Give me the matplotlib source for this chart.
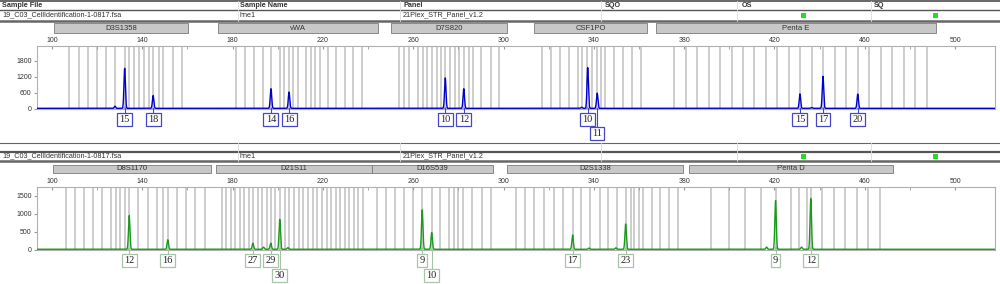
import numpy as np
import matplotlib.pyplot as plt
from matplotlib.patches import Rectangle
from matplotlib.lines import Line2D
from matplotlib.transforms import blended_transform_factory

plt.rcParams['font.family'] = ['Liberation Sans', 'DejaVu Sans']

W, H = 1000, 284

# ---- header table ----
col_titles = ['Sample File', 'Sample Name', 'Panel', 'SQO', 'OS', 'SQ']
col_x = [2, 240, 403, 605, 742, 874]
col_sep = [238, 400, 601, 737, 871]
sample_values = ['19_C03_CellIdentification-1-0817.fsa', 'hne1', '21Plex_STR_Panel_v1.2']
flag_x = [803.7, 935.7]

# ---- top panel (blue dye) ----
top_markers = ['D3S1358', 'vWA', 'D7S820', 'CSF1PO', 'Penta E']
top_marker_start = [100.9, 173.5, 250.2, 313.5, 367.5]
top_marker_end = [160.3, 244.4, 301.6, 363.6, 491.6]
top_bins = [107.7, 112.0, 115.8, 119.9, 124.1, 128.0, 132.2, 134.2, 136.3, 138.4, 140.8,
            142.8, 144.9, 147.3, 149.3, 153.5, 157.6,
            181.5, 185.5, 189.5, 193.6, 197.0, 201.0, 202.9, 205.0, 206.9, 209.1, 212.5,
            214.7, 216.6, 218.7, 222.4, 225.8, 229.6, 233.2, 237.2,
            253.7, 255.9, 258.2, 262.2, 264.2, 266.2, 268.3, 270.4, 272.4, 274.2, 276.5,
            278.5, 280.5, 282.4, 284.5, 286.4, 290.2, 294.4, 298.2,
            317.2, 321.0, 325.0, 328.9, 332.9, 334.9, 337.2, 339.1, 341.4, 343.3, 345.1,
            349.1, 353.0, 357.0, 360.8,
            375.5, 380.7, 385.7, 390.9, 395.9, 401.1, 406.1, 411.1, 416.3, 421.3, 426.5,
            431.3, 436.5, 441.5, 446.7, 451.7, 456.9, 461.9, 467.1, 472.2, 477.3, 482.4, 487.5]
top_peak_bp = [132.2, 144.8, 197.0, 205.0, 274.2, 282.4, 337.3, 341.5, 431.3, 441.5, 456.9]
top_peak_rfu = [1500, 480, 735, 610, 1140, 735, 1525, 570, 540, 1200, 535]
top_alleles = ['15', '18', '14', '16', '10', '12', '10', '11', '15', '17', '20']
top_rows = [0, 0, 0, 0, 0, 0, 0, 1, 0, 0, 0]
top_minor_bp = [127.9, 334.6, 436.5]
top_minor_rfu = [80, 40, 30]

# ---- bottom panel (green dye) ----
bot_markers = ['D8S1170', 'D21S11', 'D16S539', 'D2S1338', 'Penta D']
bot_marker_start = [100.3, 172.6, 241.9, 301.5, 382.2]
bot_marker_end = [170.4, 241.7, 295.3, 379.5, 472.5]
bot_bins = [106.1, 110.0, 114.0, 118.0, 122.0, 126.0, 128.2, 130.3, 132.2, 134.2, 138.2,
            142.4, 146.4, 149.3, 151.3, 155.2, 159.4, 163.5, 167.6,
            175.2, 177.2, 179.2, 181.2, 183.3, 185.2, 187.3, 189.0, 191.2, 193.2, 195.2,
            196.9, 199.0, 200.9, 203.3, 205.2, 207.3, 209.4, 211.4, 213.4, 215.5, 217.4,
            219.5, 221.6, 223.6, 225.6, 227.6, 229.6, 231.6, 233.6, 235.6, 237.7,
            243.8, 247.9, 251.8, 255.9, 259.8, 264.0, 268.2, 272.0, 276.0, 278.1, 280.0,
            282.2, 286.2, 290.3, 294.3,
            305.4, 309.5, 313.6, 317.8, 322.2, 326.2, 330.6, 334.5, 338.3, 342.6, 346.4,
            350.3, 354.1, 356.3, 357.9, 360.0, 361.9, 365.6, 369.4, 373.3, 377.2,
            392.1, 400.0, 407.0, 413.9, 420.5, 427.3, 430.9, 434.3, 436.1, 441.1, 446.4,
            451.4, 456.6, 461.6, 466.8]
bot_peak_bp = [134.2, 151.3, 189.0, 196.9, 200.9, 264.0, 268.2, 330.6, 354.1, 420.5, 436.1]
bot_peak_rfu = [940, 265, 170, 170, 835, 1100, 465, 400, 705, 1360, 1415]
bot_alleles = ['12', '16', '27', '29', '30', '9', '10', '17', '23', '9', '12']
bot_rows = [0, 0, 0, 0, 1, 0, 1, 0, 0, 0, 0]
bot_minor_bp = [193.7, 204.5, 337.9, 349.8, 416.5, 432.0]
bot_minor_rfu = [60, 45, 35, 40, 60, 60]

x_major = [100, 140, 180, 220, 260, 300, 340, 380, 420, 460, 500]
x_minor = [120, 160, 200, 240, 280, 320, 360, 400, 440, 480]

fig = plt.figure(figsize=(10, 2.84), dpi=100)


def fy(py):
    return 1 - py / H


def hline(py, lw, color):
    fig.add_artist(Line2D([0, 1], [fy(py), fy(py)], transform=fig.transFigure,
                          color=color, lw=lw))


def header(row_top, row_mid, row_bot, show_titles):
    hline(row_top, 1.4 if show_titles else 0.8, '#666666')
    hline(row_mid, 1.0 if show_titles else 1.6, '#555555')
    hline(row_bot, 1.8, '#666666')
    for sx in col_sep:
        fig.add_artist(Line2D([sx / W, sx / W], [fy(row_top), fy(row_bot)],
                              transform=fig.transFigure, color='#dddddd', lw=0.6))
    if show_titles:
        for t, cx in zip(col_titles, col_x):
            fig.text(cx / W, fy((row_top + row_mid) / 2), t, fontsize=5.2,
                     fontweight='bold', va='center', ha='left', color='#333333')
    vy = fy((row_mid + row_bot) / 2)
    for v, cx in zip(sample_values, col_x):
        fig.text(cx / W, vy, v, fontsize=5.2, va='center', ha='left', color='#333333')
    for gx in flag_x:
        fig.add_artist(Rectangle(((gx - 2.5) / W, vy - 2.5 / H), 5 / W, 5 / H,
                                 transform=fig.transFigure, facecolor='#22dd22',
                                 edgecolor='none'))


def panel(top, bottom, ymin, ymax, yticks, bins, names, starts, ends, bar_top, bar_bot,
          peak_bp, peak_rfu, minor_bp, minor_rfu, alleles, rows, row_y, color, edge, base):
    ax = fig.add_axes([37.3 / W, fy(bottom), (995 - 37.3) / W, (bottom - top) / H])
    ax.set_xlim(93.5, 517.7)
    ax.set_ylim(ymin, ymax)
    for b in bins:
        ax.axvline(b, color='#cdcdcd', lw=1.4, zorder=1)
    x = np.linspace(93.5, 517.7, 30000)
    y = np.full_like(x, base)
    for p, h in zip(peak_bp + minor_bp, peak_rfu + minor_rfu):
        y += h * np.exp(-0.5 * ((x - p) / 0.32) ** 2)
    env = np.full_like(x, 0.0)
    for p, h in zip(peak_bp, peak_rfu):
        env += 0.06 * h * np.exp(-0.5 * ((x - p) / 1.0) ** 2)
    ax.fill_between(x, 0, env + base, color=color, alpha=0.25, lw=0, zorder=2)
    ax.plot(x, y, color=color, lw=1.0, zorder=3)

    ax.xaxis.tick_top()
    ax.set_xticks(x_major)
    ax.set_xticks(x_minor, minor=True)
    ax.set_yticks(yticks)
    ax.tick_params(axis='x', which='both', direction='in', length=2, labelsize=5,
                   pad=1.5, color='#999999', labelcolor='#333333')
    ax.tick_params(axis='y', direction='out', length=2, labelsize=5, pad=2,
                   color='#999999', labelcolor='#333333')
    for s in ax.spines.values():
        s.set_color('#b0b0b0')
        s.set_linewidth(0.8)

    tr = blended_transform_factory(ax.transData, fig.transFigure)
    for n, s, e in zip(names, starts, ends):
        ax.add_patch(Rectangle((s, fy(bar_bot)), e - s, (bar_bot - bar_top) / H,
                               transform=tr, facecolor='#c8c8c8', edgecolor='#7a7a7a',
                               lw=0.6, clip_on=False))
        ax.text((s + e) / 2, fy((bar_top + bar_bot) / 2), n, transform=tr,
                ha='center', va='center', fontsize=5.5, color='#333333')
    for p, a, r in zip(peak_bp, alleles, rows):
        cy = row_y[r]
        ax.add_line(Line2D([p, p], [fy(bottom - 1), fy(cy - 5)], transform=tr,
                           color=edge, lw=0.8, clip_on=False, zorder=4))
        ax.text(p, fy(cy), a, transform=tr, ha='center', va='center', fontsize=7.5,
                family=['Liberation Serif', 'DejaVu Serif'], color='#222222', zorder=5,
                bbox=dict(boxstyle='square,pad=0.22', fc='white', ec=edge, lw=0.9),
                clip_on=False)
    return ax


header(1, 10, 20.5, True)
panel(45.7, 109.3, -22, 2362, [0, 600, 1200, 1800], top_bins,
      top_markers, top_marker_start, top_marker_end, 23, 33,
      top_peak_bp, top_peak_rfu, top_minor_bp, top_minor_rfu,
      top_alleles, top_rows, [119.5, 133.5], '#0000cc', '#4646c8', 15)

header(143, 152, 160.5, False)
panel(186.7, 250.3, -17, 1758, [0, 500, 1000, 1500], bot_bins,
      bot_markers, bot_marker_start, bot_marker_end, 165, 173,
      bot_peak_bp, bot_peak_rfu, bot_minor_bp, bot_minor_rfu,
      bot_alleles, bot_rows, [260.5, 275.5], '#1a9a1a', '#a8c4a8', 12)

fig.savefig('out.png', dpi=100)
